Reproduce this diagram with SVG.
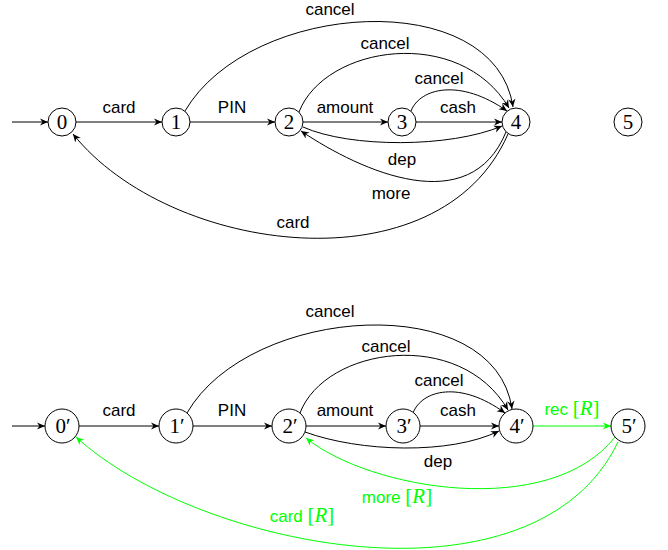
<svg xmlns="http://www.w3.org/2000/svg" width="668" height="550" viewBox="0 0 668 550">
<defs>
<marker id="ah" viewBox="-9 -5 10 10" refX="0" refY="0" markerWidth="10" markerHeight="10" markerUnits="userSpaceOnUse" orient="auto">
<path d="M0,0 L-8,-3.6 L-5.6,0 L-8,3.6 Z" fill="#000"/>
</marker>
<marker id="ahg" viewBox="-9 -5 10 10" refX="0" refY="0" markerWidth="10" markerHeight="10" markerUnits="userSpaceOnUse" orient="auto">
<path d="M0,0 L-8,-3.6 L-5.6,0 L-8,3.6 Z" fill="#00ff00"/>
</marker>
</defs>
<style>
.n{fill:#fff;stroke:#000;stroke-width:1}
.nl{font-family:"Liberation Serif","DejaVu Serif",serif;font-size:21px;text-anchor:middle;fill:#000}
.e{fill:none;stroke:#000;stroke-width:1;marker-end:url(#ah)}
.g{fill:none;stroke:#00ff00;stroke-width:1;marker-end:url(#ahg)}
.l{font-family:"Liberation Sans",Arial,sans-serif;font-size:17px;text-anchor:middle;fill:#000}
.lg{font-family:"Liberation Sans",Arial,sans-serif;font-size:17px;text-anchor:middle;fill:#00ff00}
.m{font-family:"Liberation Serif","DejaVu Serif",serif;font-size:21px}
.i{font-style:italic}
</style>
<g id="connectors">
<!-- top -->
<path class="e" d="M12,122 L48,122"/>
<path class="e" d="M76,122 L162,122"/>
<path class="e" d="M190,122 L275,122"/>
<path class="e" d="M303,122 L388,122"/>
<path class="e" d="M416,122 L502,122"/>
<path class="e" d="M411,111 C420,88 460,78 507,111"/>
<path class="e" d="M299,112 C325,45 460,25 509,108"/>
<path class="e" d="M185,111 C250,0 495,-15 513,107"/>
<path class="e" d="M303,127 C350,148 450,148 502,126"/>
<path class="e" d="M506,132 C470,220 362,172 301,131"/>
<path class="e" d="M508,134 C440,290 170,255 73,134"/>
<!-- bottom -->
<path class="e" d="M12,426 L45,426"/>
<path class="e" d="M79,426 L159,426"/>
<path class="e" d="M193,426 L272,426"/>
<path class="e" d="M306,426 L386,426"/>
<path class="e" d="M420,426 L499,426"/>
<path class="e" d="M413,413 C422,390 460,380 505,413"/>
<path class="e" d="M300,413 C325,347 460,327 508,410"/>
<path class="e" d="M187,413 C250,304 495,289 512,409"/>
<path class="e" d="M305,432 C360,452 450,455 499,431"/>
<path class="g" d="M533,426 L611,426"/>
<path class="g" d="M615,437 C550,520 370,490 306,438"/>
<path class="g" d="M618,442 C535,615 200,550 76,437"/>
</g>
<g id="node0"><circle class="n" cx="62" cy="122" r="14"/><text class="nl" x="62" y="129">0</text></g>
<g id="node1"><circle class="n" cx="176" cy="122" r="14"/><text class="nl" x="176" y="129">1</text></g>
<g id="node2"><circle class="n" cx="289" cy="122" r="14"/><text class="nl" x="289" y="129">2</text></g>
<g id="node3"><circle class="n" cx="402" cy="122" r="14"/><text class="nl" x="402" y="129">3</text></g>
<g id="node4"><circle class="n" cx="516" cy="122" r="14"/><text class="nl" x="516" y="129">4</text></g>
<g id="node5"><circle class="n" cx="628" cy="122" r="14"/><text class="nl" x="628" y="129">5</text></g>
<g id="node0p"><circle class="n" cx="62" cy="426" r="17"/><text class="nl" x="63" y="433">0′</text></g>
<g id="node1p"><circle class="n" cx="176" cy="426" r="17"/><text class="nl" x="177" y="433">1′</text></g>
<g id="node2p"><circle class="n" cx="289" cy="426" r="17"/><text class="nl" x="290" y="433">2′</text></g>
<g id="node3p"><circle class="n" cx="403" cy="426" r="17"/><text class="nl" x="404" y="433">3′</text></g>
<g id="node4p"><circle class="n" cx="516" cy="426" r="17"/><text class="nl" x="517" y="433">4′</text></g>
<g id="node5p"><circle class="n" cx="628" cy="426" r="17"/><text class="nl" x="629" y="433">5′</text></g>
<g id="labels">
<text class="l" x="119" y="113">card</text>
<text class="l" x="232" y="113">PIN</text>
<text class="l" x="345" y="113">amount</text>
<text class="l" x="458" y="113">cash</text>
<text class="l" x="330" y="15">cancel</text>
<text class="l" x="385" y="49">cancel</text>
<text class="l" x="439" y="84">cancel</text>
<text class="l" x="402" y="165">dep</text>
<text class="l" x="391" y="199">more</text>
<text class="l" x="293" y="228">card</text>
<text class="l" x="119" y="416">card</text>
<text class="l" x="232" y="416">PIN</text>
<text class="l" x="345" y="416">amount</text>
<text class="l" x="458" y="416">cash</text>
<text class="l" x="330" y="317">cancel</text>
<text class="l" x="386" y="352">cancel</text>
<text class="l" x="439" y="386">cancel</text>
<text class="l" x="438" y="467">dep</text>
<text class="lg" x="572" y="415">rec <tspan class="m">[<tspan class="i">R</tspan>]</tspan></text>
<text class="lg" x="397" y="503">more <tspan class="m">[<tspan class="i">R</tspan>]</tspan></text>
<text class="lg" x="302" y="522">card <tspan class="m">[<tspan class="i">R</tspan>]</tspan></text>
</g>
</svg>
